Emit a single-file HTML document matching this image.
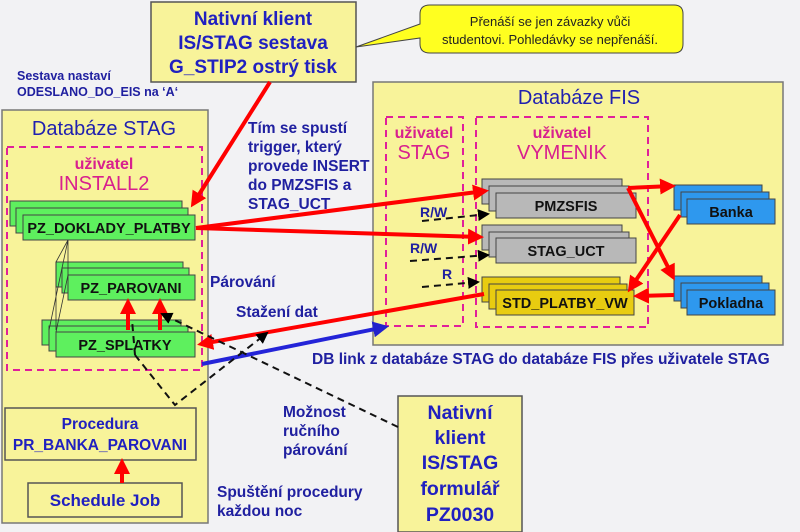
<!DOCTYPE html>
<html><head><meta charset="utf-8"><style>
html,body{margin:0;padding:0;background:#f2f2f4;}
svg{display:block;font-family:"Liberation Sans",Arial,sans-serif;font-weight:bold;}
</style></head><body>
<svg width="800" height="532" viewBox="0 0 800 532" xmlns="http://www.w3.org/2000/svg">
<defs>
<marker id="ar" markerWidth="4" markerHeight="4" refX="3" refY="2" orient="auto" markerUnits="strokeWidth"><path d="M0,0 L4,2 L0,4 z" fill="#ff0000"/></marker>
<marker id="ab" markerWidth="4" markerHeight="4" refX="3" refY="2" orient="auto" markerUnits="strokeWidth"><path d="M0,0 L4,2 L0,4 z" fill="#2222cc"/></marker>
<marker id="ak" markerWidth="6" markerHeight="6" refX="5" refY="3" orient="auto" markerUnits="strokeWidth"><path d="M0,0 L6,3 L0,6 z" fill="#000"/></marker>
</defs>
<rect width="800" height="532" fill="#f2f2f4"/>
<!-- STAG DB -->
<rect x="2" y="110" width="206" height="413" fill="#f8f39a" stroke="#777" stroke-width="1.5"/>
<text x="104" y="135" font-size="20" fill="#2020b0" text-anchor="middle" font-weight="normal">Databáze STAG</text>
<rect x="7" y="147" width="195" height="223" fill="none" stroke="#e0209a" stroke-width="2" stroke-dasharray="7,5"/>
<text x="104" y="169" font-size="16" fill="#d8208e" text-anchor="middle">uživatel</text>
<text x="104" y="190" font-size="20" fill="#d8208e" text-anchor="middle" font-weight="normal">INSTALL2</text>
<!-- FIS DB -->
<rect x="373" y="82" width="410" height="263" fill="#f8f39a" stroke="#777" stroke-width="1.5"/>
<text x="579" y="104" font-size="20" fill="#2020b0" text-anchor="middle" font-weight="normal">Databáze FIS</text>
<rect x="386" y="117" width="77" height="209" fill="none" stroke="#e0209a" stroke-width="2" stroke-dasharray="7,5"/>
<rect x="476" y="117" width="172" height="210" fill="none" stroke="#e0209a" stroke-width="2" stroke-dasharray="7,5"/>
<text x="424" y="138" font-size="16" fill="#d8208e" text-anchor="middle">uživatel</text>
<text x="424" y="159" font-size="20" fill="#d8208e" text-anchor="middle" font-weight="normal">STAG</text>
<text x="562" y="138" font-size="16" fill="#d8208e" text-anchor="middle">uživatel</text>
<text x="562" y="159" font-size="20" fill="#d8208e" text-anchor="middle" font-weight="normal">VYMENIK</text>
<g stroke="#444" stroke-width="1">
<rect x="10" y="201" width="172" height="25" fill="#5ef05e"/><rect x="16" y="208" width="172" height="25" fill="#5ef05e"/><rect x="23" y="215" width="172" height="25" fill="#5ef05e"/>
<rect x="56" y="262" width="127" height="25" fill="#5ef05e"/><rect x="62" y="268" width="127" height="25" fill="#5ef05e"/><rect x="68" y="275" width="127" height="25" fill="#5ef05e"/>
<rect x="42" y="320" width="139" height="25" fill="#5ef05e"/><rect x="49" y="326" width="139" height="25" fill="#5ef05e"/><rect x="56" y="332" width="139" height="25" fill="#5ef05e"/>
<rect x="482" y="179" width="140" height="25" fill="#b8b8b8"/><rect x="489" y="186" width="140" height="25" fill="#b8b8b8"/><rect x="496" y="193" width="140" height="25" fill="#b8b8b8"/>
<rect x="482" y="225" width="140" height="25" fill="#b8b8b8"/><rect x="489" y="232" width="140" height="25" fill="#b8b8b8"/><rect x="496" y="238" width="140" height="25" fill="#b8b8b8"/>
<rect x="482" y="277" width="138" height="25" fill="#e8cc10"/><rect x="489" y="284" width="138" height="25" fill="#e8cc10"/><rect x="496" y="290" width="138" height="25" fill="#e8cc10"/>
<rect x="674" y="185" width="88" height="25" fill="#2e98ee"/><rect x="681" y="192" width="88" height="25" fill="#2e98ee"/><rect x="687" y="199" width="88" height="25" fill="#2e98ee"/>
<rect x="674" y="276" width="88" height="25" fill="#2e98ee"/><rect x="681" y="283" width="88" height="25" fill="#2e98ee"/><rect x="687" y="290" width="88" height="25" fill="#2e98ee"/>
</g>
<g stroke="#333" stroke-width="0.8" fill="none"><path d="M68,240 L56,262 L56,330 M68,240 L62,268 L49,330 M68,240 L68,275 L56,332"/></g>
<g font-size="14.5" fill="#111" text-anchor="middle">
<text x="109" y="233">PZ_DOKLADY_PLATBY</text>
<text x="131" y="293">PZ_PAROVANI</text>
<text x="125" y="350">PZ_SPLATKY</text>
<text x="566" y="211">PMZSFIS</text>
<text x="566" y="256">STAG_UCT</text>
<text x="565" y="308">STD_PLATBY_VW</text>
<text x="731" y="217">Banka</text>
<text x="731" y="308">Pokladna</text>
</g>
<rect x="5" y="408" width="191" height="52" fill="#f8f39a" stroke="#555" stroke-width="1.5"/>
<text x="100" y="429" font-size="15.5" fill="#2020c0" text-anchor="middle">Procedura</text>
<text x="100" y="450" font-size="15.5" fill="#2020c0" text-anchor="middle">PR_BANKA_PAROVANI</text>
<rect x="28" y="483" width="154" height="34" fill="#f8f39a" stroke="#555" stroke-width="1.5"/>
<text x="105" y="506" font-size="17" fill="#2020c0" text-anchor="middle">Schedule Job</text>
<rect x="151" y="2" width="205" height="80" fill="#f8f39a" stroke="#555" stroke-width="1.5"/>
<g font-size="19" fill="#2020c0" text-anchor="middle">
<text x="253" y="25">Nativní klient</text>
<text x="253" y="49">IS/STAG sestava</text>
<text x="253" y="73">G_STIP2 ostrý tisk</text>
</g>
<path d="M430,5 L674,5 Q683,5 683,14 L683,44 Q683,53 674,53 L430,53 Q420,53 420,44 L420,38 L356,47 L420,24 L420,14 Q420,5 430,5 z" fill="#ffff20" stroke="#444" stroke-width="1"/>
<text x="550" y="26" font-size="13" font-weight="normal" fill="#222" text-anchor="middle">Přenáší se jen závazky vůči</text>
<text x="550" y="44" font-size="13" font-weight="normal" fill="#222" text-anchor="middle">studentovi. Pohledávky se nepřenáší.</text>
<rect x="398" y="396" width="124" height="136" fill="#f8f39a" stroke="#555" stroke-width="1.5"/>
<g font-size="19.5" fill="#2020c0" text-anchor="middle">
<text x="460" y="419">Nativní</text><text x="460" y="444">klient</text><text x="460" y="469">IS/STAG</text><text x="460" y="495">formulář</text><text x="460" y="521">PZ0030</text>
</g>
<g font-size="12.5" fill="#2020a0">
<text x="17" y="80">Sestava nastaví</text>
<text x="17" y="96">ODESLANO_DO_EIS na ‘A‘</text>
</g>
<g font-size="15.5" fill="#2020a0">
<text x="248" y="133">Tím se spustí</text>
<text x="248" y="152">trigger, který</text>
<text x="248" y="171">provede INSERT</text>
<text x="248" y="190">do PMZSFIS a</text>
<text x="248" y="209">STAG_UCT</text>
<text x="210" y="287">Párování</text>
<text x="236" y="317">Stažení dat</text>
<text x="312" y="364">DB link z databáze STAG do databáze FIS přes uživatele STAG</text>
<text x="283" y="417">Možnost</text><text x="283" y="436">ručního</text><text x="283" y="455">párování</text>
<text x="217" y="497">Spuštění procedury</text><text x="217" y="516">každou noc</text>
</g>
<g font-size="14" fill="#2020a0">
<text x="420" y="217">R/W</text><text x="410" y="253">R/W</text><text x="442" y="279">R</text>
</g>
<g stroke="#ff0000" stroke-width="4" fill="none" marker-end="url(#ar)">
<line x1="270" y1="82" x2="193" y2="204"/>
<line x1="196" y1="228" x2="485" y2="191"/>
<line x1="196" y1="228" x2="480" y2="237"/>
<line x1="484" y1="294" x2="201" y2="344"/>
<polyline points="628,188 672,186"/>
<line x1="628" y1="188" x2="673" y2="277"/>
<line x1="680" y1="215" x2="630" y2="289"/>
<line x1="674" y1="295" x2="637" y2="296"/>
<line x1="128" y1="330" x2="128" y2="302"/>
<line x1="160" y1="330" x2="160" y2="302"/>
<line x1="122" y1="483" x2="122" y2="462"/>
</g>
<line x1="202" y1="364" x2="385" y2="327" stroke="#2424d8" stroke-width="4" marker-end="url(#ab)"/>
<g stroke="#111" stroke-width="2" stroke-dasharray="7,5" fill="none">
<line x1="398" y1="427" x2="162" y2="314" marker-end="url(#ak)"/>
<polyline points="135,355 175,405 267,333" marker-end="url(#ak)"/>
<line x1="135" y1="355" x2="132" y2="320"/>
<line x1="422" y1="221" x2="488" y2="214" marker-end="url(#ak)"/>
<line x1="410" y1="261" x2="488" y2="255" marker-end="url(#ak)"/>
<line x1="422" y1="287" x2="478" y2="282" marker-end="url(#ak)"/>
</g>
</svg>
</body></html>
